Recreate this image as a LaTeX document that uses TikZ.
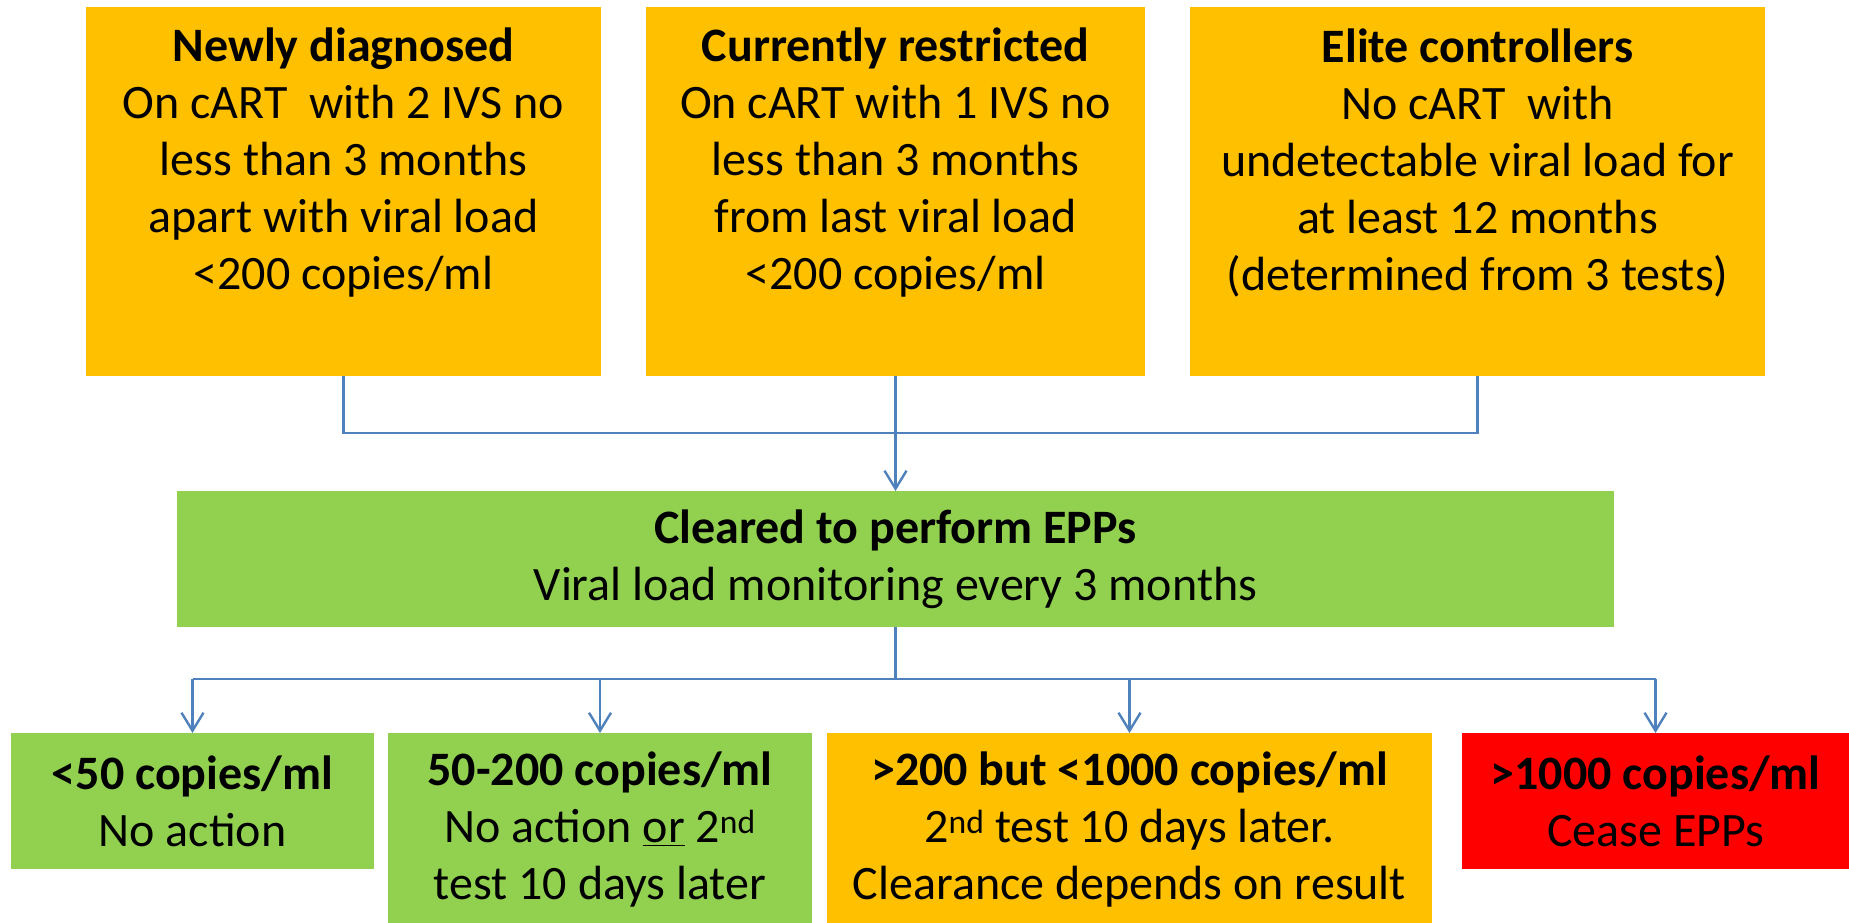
\documentclass[tikz,border=0pt]{standalone}
\usepackage{fontspec}
\setmainfont{Carlito}
\usetikzlibrary{arrows.meta}
\definecolor{amber}{HTML}{FFC000}
\definecolor{leaf}{HTML}{92D050}
\definecolor{alarm}{HTML}{FF0000}
\definecolor{wire}{HTML}{4F81BD}
\tikzset{
  box/.style={inner sep=0pt, outer sep=0pt, anchor=north west},
  txt/.style={align=center, inner sep=0pt, font=\fontsize{48}{57}\selectfont},
  link/.style={draw=wire, line width=2.4pt},
  flow/.style={link, -{Straight Barb[length=18pt,width=22pt,line width=2.4pt]}},
}
\begin{document}
\begin{tikzpicture}[x=1pt,y=-1pt]
\useasboundingbox (0,0) rectangle (1849,923);

% entry criteria
\node[box, fill=amber, minimum width=515pt, minimum height=369pt] (nd) at (86,7) {};
\node[box, fill=amber, minimum width=499pt, minimum height=369pt] (cr) at (646,7) {};
\node[box, fill=amber, minimum width=575pt, minimum height=369pt] (ec) at (1190,7) {};

\node[txt] (ndt) at (343.5,163) {\textbf{Newly diagnosed}\\On cART\ \ with 2 IVS no\\less than 3 months\\apart with viral load\\<200 copies/ml};
\node[txt] (crt) at (895.5,163) {\textbf{Currently restricted}\\On cART with 1 IVS no\\less than 3 months\\from last viral load\\<200 copies/ml};
\node[txt] (ect) at (1477.5,163) {\textbf{Elite controllers}\\No cART\ \ with\\undetectable viral load for\\at least 12 months\\(determined from 3 tests)};

% clearance
\node[box, fill=leaf, minimum width=1437pt, minimum height=136pt] (ok) at (177,491) {};
\node[txt] (okt) at (895.5,559) {\textbf{Cleared to perform EPPs}\\Viral load monitoring every 3 months};

% monitoring outcomes
\node[box, fill=leaf, minimum width=363pt, minimum height=136pt] (r1) at (11,733) {};
\node[box, fill=leaf, minimum width=424pt, minimum height=200pt] (r2) at (388,733) {};
\node[box, fill=amber, minimum width=605pt, minimum height=200pt] (r3) at (827,733) {};
\node[box, fill=alarm, minimum width=387pt, minimum height=136pt] (r4) at (1462,733) {};

\node[txt] (r1t) at (192.5,801) {\textbf{<50 copies/ml}\\No action};
\node[txt] (r2t) at (600,830) {\textbf{50-200 copies/ml}\\No action \underline{or} 2\textsuperscript{nd}\\test 10 days later};
\node[txt] (r3t) at (1129.5,830) {\textbf{>200 but <1000 copies/ml}\\2\textsuperscript{nd} test 10 days later.\\Clearance depends on result};
\node[txt] (r4t) at (1655.5,801) {\textbf{>1000 copies/ml}\\Cease EPPs};

% connectors
\coordinate (jt) at (895.5,433);
\coordinate (jb) at (895.5,679);
\draw[link] (nd.south) |- (jt) -| (ec.south);
\draw[flow] (cr.south) -- (ok.north);
\draw[link] (ok.south) -- (jb);
\draw[link] (r1.north |- jb) -- (r4.north |- jb);
\draw[flow] (r1.north |- jb) -- (r1.north);
\draw[flow] (r2.north |- jb) -- (r2.north);
\draw[flow] (r3.north |- jb) -- (r3.north);
\draw[flow] (r4.north |- jb) -- (r4.north);
\end{tikzpicture}
\end{document}
